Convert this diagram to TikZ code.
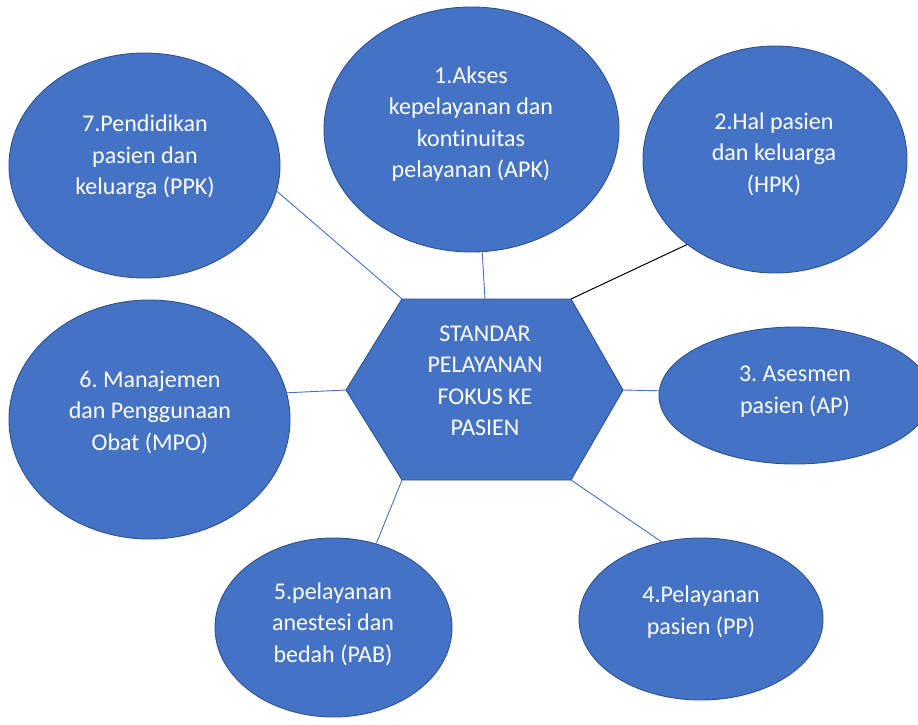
\documentclass[tikz,border=0pt]{standalone}
\usepackage{fontspec}
\setmainfont[Ligatures={NoCommon,NoRare,NoContextual}]{Carlito}
\usetikzlibrary{shapes.geometric}
\definecolor{fillblue}{HTML}{4472C4}
\definecolor{edgeblue}{HTML}{2F528F}
\definecolor{linkblue}{HTML}{4472C4}
\frenchspacing
\begin{document}
\begin{tikzpicture}[x=1pt,y=-1pt,
  bubble/.style={ellipse, draw=edgeblue, fill=fillblue, line width=0.9pt, inner sep=0pt},
  caption/.style={text=white, align=center, inner sep=0pt,
    font=\fontsize{24}{31.5}\selectfont},
  link/.style={draw=linkblue, line width=0.9pt},
  darklink/.style={draw=black, line width=1pt}]
\clip (0,0) rectangle (918,725);

% central hexagon corners
\coordinate (hTL) at (402,299);
\coordinate (hT)  at (485,299);
\coordinate (hTR) at (571,299);
\coordinate (hR)  at (623,390);
\coordinate (hBR) at (571,480);
\coordinate (hBL) at (402,480);
\coordinate (hL)  at (346,390);
\draw[draw=edgeblue, fill=fillblue, line width=0.9pt]
  (hTL) -- (hTR) -- (hR) -- (hBR) -- (hBL) -- (hL) -- cycle;
\node[caption] (core) at (485,381) {STANDAR\\PELAYANAN\\FOKUS KE\\PASIEN};

% surrounding ellipses
\node[bubble, minimum width=295pt, minimum height=245pt] (e1) at (471.5,129.5) {};
\node[bubble, minimum width=264pt, minimum height=227pt] (e2) at (775,159.5) {};
\node[bubble, minimum width=272pt, minimum height=137pt] (e3) at (795,395.5) {};
\node[bubble, minimum width=244pt, minimum height=162pt] (e4) at (701,619) {};
\node[bubble, minimum width=237pt, minimum height=179pt] (e5) at (333.5,627.5) {};
\node[bubble, minimum width=281pt, minimum height=239pt] (e6) at (149.5,419.5) {};
\node[bubble, minimum width=271pt, minimum height=225pt] (e7) at (144.5,165.5) {};

% ellipse captions
\node[caption] (t1) at (471,124) {1.Akses\\kepelayanan dan\\kontinuitas\\pelayanan (APK)};
\node[caption] (t2) at (774,154) {2.Hal pasien\\dan keluarga\\(HPK)};
\node[caption] (t3) at (795,391.5) {3. Asesmen\\pasien (AP)};
\node[caption] (t4) at (701,612) {4.Pelayanan\\pasien (PP)};
\node[caption] (t5) at (333,624) {5.pelayanan\\anestesi dan\\bedah (PAB)};
\node[caption] (t6) at (150,412) {6. Manajemen\\dan Penggunaan\\Obat (MPO)};
\node[caption] (t7) at (145,157) {7.Pendidikan\\pasien dan\\keluarga (PPK)};

% connectors
\draw[link] (e1.-85) -- (hT);
\draw[darklink] (e2.-136) -- (hTR);
\draw[link] (e3.178) -- (hR);
\draw[link] (e4.117) -- (hBR);
\draw[link] (e5.63) -- (hBL);
\draw[link] (e6.11) -- (hL);
\draw[link] (e7.-11) -- (hTL);
\end{tikzpicture}
\end{document}
